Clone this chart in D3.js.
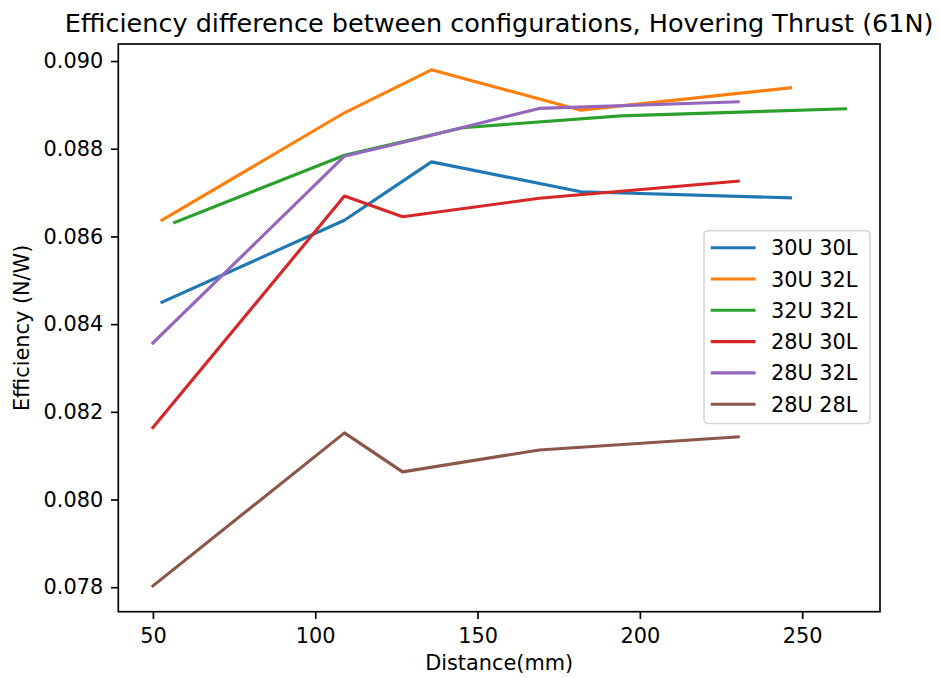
<!DOCTYPE html>
<html>
<head>
<meta charset="utf-8">
<script src="https://cdn.jsdelivr.net/npm/d3@7"></script>
<style>
  html, body { margin: 0; padding: 0; background: #fff; }
  svg { display: block; font-family: "DejaVu Sans", sans-serif; }
</style>
</head>
<body>
<svg id="chart" width="939" height="678"></svg>
<script>
// Efficiency (N/W) versus distance (mm) for six upper/lower propeller configurations
const seriesNames = ["30U 30L", "30U 32L", "32U 32L", "28U 30L", "28U 32L", "28U 28L"];
const seriesColors = ["#1f77b4", "#ff7f0e", "#2ca02c", "#d62728", "#9467bd", "#8c564b"];

const dist30U30L = [52.8, 109, 135.8, 181.8, 246.4];
const eff30U30L  = [0.08450, 0.08637, 0.08770, 0.08702, 0.08688];

const dist30U32L = [52.8, 109, 135.8, 181.8, 246.4];
const eff30U32L  = [0.08637, 0.08882, 0.08980, 0.08888, 0.08939];

const dist32U32L = [56.7, 109, 145.4, 194.1, 263.3];
const eff32U32L  = [0.08632, 0.08785, 0.08848, 0.08875, 0.08891];

const dist28U30L = [50, 109, 126.9, 169, 230.3];
const eff28U30L  = [0.08164, 0.08692, 0.08645, 0.08687, 0.08726];

const dist28U32L = [50, 109, 126.9, 169, 230.3];
const eff28U32L  = [0.08357, 0.08783, 0.08814, 0.08892, 0.08907];

const dist28U28L = [50, 109, 126.9, 169, 230.3];
const eff28U28L  = [0.07803, 0.08152, 0.08063, 0.08113, 0.08143];

const xTicks = [50, 100, 150, 200, 250];
const yTicks = [0.078, 0.080, 0.082, 0.084, 0.086, 0.088, 0.090];

const titleText = "Efficiency difference between configurations, Hovering Thrust (61N)";
const xLabel = "Distance(mm)";
const yLabel = "Efficiency (N/W)";

const allDist = [dist30U30L, dist30U32L, dist32U32L, dist28U30L, dist28U32L, dist28U28L];
const allEff  = [eff30U30L, eff30U32L, eff32U32L, eff28U30L, eff28U32L, eff28U28L];

const series = seriesNames.map((name, i) => ({
  name,
  color: seriesColors[i],
  points: allDist[i].map((d, j) => ({ x: d, y: allEff[i][j] }))
}));

// plot frame
const plotLeft = 118.3, plotRight = 880, plotTop = 44, plotBottom = 611.7;
const fs = 20.83;

// 5% padding around the data extent
function padded(vals) {
  const lo = d3.min(vals), hi = d3.max(vals), p = (hi - lo) * 0.05;
  return [lo - p, hi + p];
}
const x = d3.scaleLinear().domain(padded(allDist.flat())).range([plotLeft, plotRight]);
const y = d3.scaleLinear().domain(padded(allEff.flat())).range([plotBottom, plotTop]);

const svg = d3.select("#chart");

// lines
const line = d3.line().x(d => x(d.x)).y(d => y(d.y));
svg.append("g")
  .selectAll("path")
  .data(series)
  .join("path")
  .attr("d", d => line(d.points))
  .attr("fill", "none")
  .attr("stroke", d => d.color)
  .attr("stroke-width", 3.125)
  .attr("stroke-linejoin", "round")
  .attr("stroke-linecap", "square");

// axes
const xAxis = svg.append("g")
  .attr("transform", `translate(0,${plotBottom})`)
  .call(d3.axisBottom(x).tickValues(xTicks).tickFormat(d3.format("d")).tickSize(7.3).tickPadding(8.8));
const yAxis = svg.append("g")
  .attr("transform", `translate(${plotLeft},0)`)
  .call(d3.axisLeft(y).tickValues(yTicks).tickFormat(d3.format(".3f")).tickSize(7.3).tickPadding(7.8));

[xAxis, yAxis].forEach(g => {
  g.select(".domain").remove();
  g.selectAll(".tick line").attr("stroke", "#000").attr("stroke-width", 1.67);
  g.selectAll(".tick text")
    .attr("fill", "#000")
    .style("font-family", "DejaVu Sans, sans-serif")
    .style("font-size", fs + "px");
});

// frame
svg.append("rect")
  .attr("x", plotLeft).attr("y", plotTop)
  .attr("width", plotRight - plotLeft).attr("height", plotBottom - plotTop)
  .attr("fill", "none").attr("stroke", "#000").attr("stroke-width", 1.67);

// title and axis labels
svg.append("text")
  .attr("x", (plotLeft + plotRight) / 2).attr("y", plotTop - 12.3)
  .attr("text-anchor", "middle")
  .style("font-size", "25.5px")
  .text(titleText);

svg.append("text")
  .attr("x", (plotLeft + plotRight) / 2).attr("y", 670)
  .attr("text-anchor", "middle")
  .style("font-size", fs + "px")
  .text(xLabel);

svg.append("text")
  .attr("transform", `translate(29,${(plotTop + plotBottom) / 2}) rotate(-90)`)
  .attr("text-anchor", "middle")
  .style("font-size", fs + "px")
  .text(yLabel);

// legend
const lgX = 704, lgY = 230.7, lgW = 166, rowH = 31.3;
const lgH = rowH * series.length + 5;
const legend = svg.append("g");
legend.append("rect")
  .attr("x", lgX).attr("y", lgY).attr("width", lgW).attr("height", lgH)
  .attr("rx", 4).attr("ry", 4)
  .attr("fill", "#fff").attr("fill-opacity", 0.8)
  .attr("stroke", "#d6d6d6").attr("stroke-width", 1.67);
const rows = legend.selectAll("g.row")
  .data(series)
  .join("g")
  .attr("class", "row")
  .attr("transform", (d, i) => `translate(0,${lgY + 17 + i * rowH})`);
rows.append("line")
  .attr("x1", lgX + 8.3).attr("x2", lgX + 50)
  .attr("stroke", d => d.color).attr("stroke-width", 3.125)
  .attr("stroke-linecap", "square");
rows.append("text")
  .attr("x", lgX + 67)
  .attr("dy", "0.36em")
  .style("font-size", fs + "px")
  .text(d => d.name);
</script>
</body>
</html>
